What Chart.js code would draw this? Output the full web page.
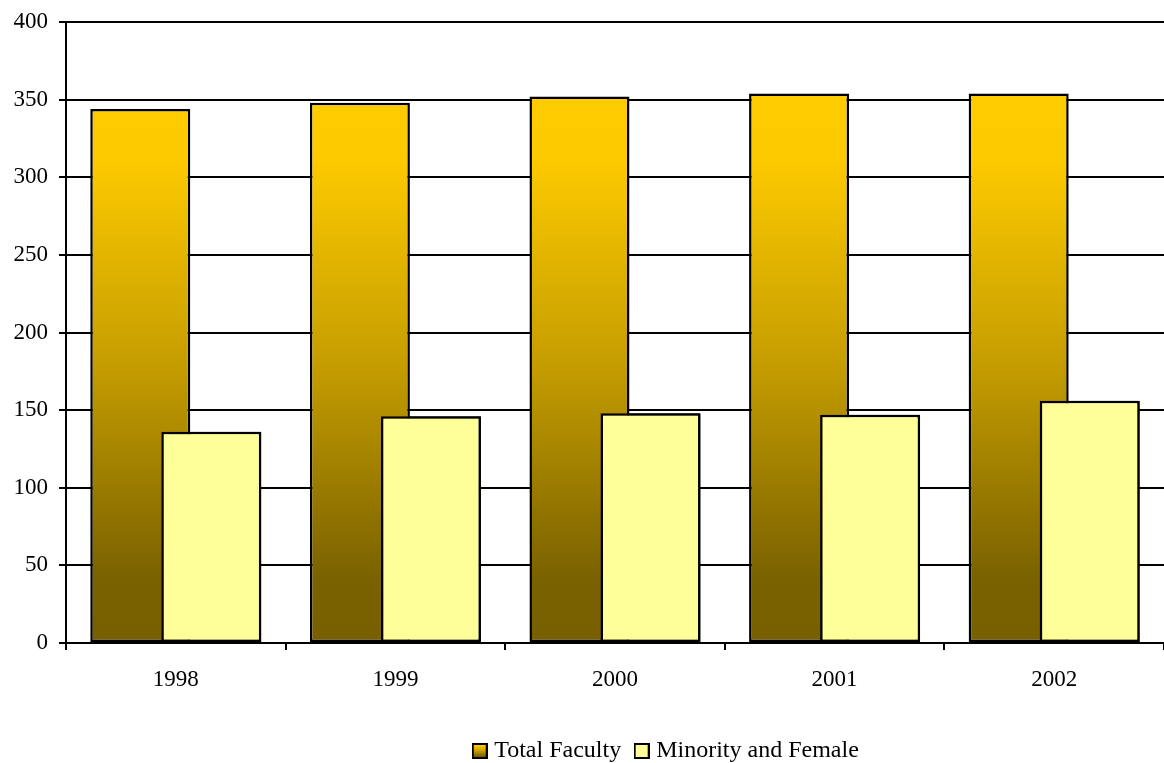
<!DOCTYPE html>
<html>
<head>
<meta charset="utf-8">
<script src="https://cdn.jsdelivr.net/npm/chart.js@4/dist/chart.umd.min.js"></script>
<style>
  html, body { margin: 0; padding: 0; background: #fff; }
  #wrap { width: 1164px; height: 763px; }
</style>
</head>
<body>
<div id="wrap"><canvas id="c" width="1164" height="763"></canvas></div>
<script>
const categories = ['1998', '1999', '2000', '2001', '2002'];
const totalFaculty = [344, 348, 352, 354, 354];
const minorityFemale = [136, 146, 148, 147, 156];
const yTicks = [0, 50, 100, 150, 200, 250, 300, 350, 400];
const seriesNames = ['Total Faculty', 'Minority and Female'];

const FONT = "'Liberation Serif', 'Times New Roman', serif";
const FS = 23;
const LFS = 24;

function totalGradient(ctx, top, bottom) {
  const g = ctx.createLinearGradient(0, top, 0, bottom);
  g.addColorStop(0, '#FFCC00');
  g.addColorStop(0.12, '#FDCA00');
  g.addColorStop(0.5, '#C49C00');
  g.addColorStop(0.88, '#7A6200');
  g.addColorStop(1, '#786000');
  return g;
}

function legendIcon(kind) {
  const s = 16;
  const cv = document.createElement('canvas');
  cv.width = s; cv.height = s;
  const c = cv.getContext('2d');
  c.fillStyle = kind === 0 ? totalGradient(c, 1, s - 1) : '#FFFF99';
  c.fillRect(1, 1, s - 2, s - 2);
  c.strokeStyle = '#000';
  c.lineWidth = 2;
  c.strokeRect(1, 1, s - 2, s - 2);
  return cv;
}
const icons = [legendIcon(0), legendIcon(1)];

const redrawTop = {
  id: 'redrawTop',
  afterLayout(chart) {
    const lg = chart.legend;
    if (lg) {
      lg.left += 86; lg.right += 86;
      lg.top += 10; lg.bottom += 10;
    }
  },
  afterDatasetsDraw(chart) {
    const meta = chart.getDatasetMeta(1);
    const a = chart.chartArea;
    const ctx = chart.ctx;
    ctx.save();
    ctx.beginPath();
    ctx.rect(a.left, a.top - 2, a.right - a.left, a.bottom - a.top + 4);
    ctx.clip();
    meta.controller.draw();
    ctx.restore();
  }
};

new Chart(document.getElementById('c'), {
  type: 'bar',
  data: {
    labels: categories,
    datasets: [
      {
        label: seriesNames[0],
        data: totalFaculty,
        backgroundColor: (context) => {
          const chart = context.chart;
          const a = chart.chartArea;
          if (!a) return '#FFCC00';
          const y = chart.scales.y;
          return totalGradient(chart.ctx, y.getPixelForValue(354), y.getPixelForValue(0));
        },
        borderColor: '#000',
        borderWidth: 2.5,
        borderSkipped: false,
        categoryPercentage: 0.647,
        barPercentage: 1.408
      },
      {
        label: seriesNames[1],
        data: minorityFemale,
        backgroundColor: '#FFFF99',
        borderColor: '#000',
        borderWidth: 2.5,
        borderSkipped: false,
        categoryPercentage: 0.647,
        barPercentage: 1.408
      }
    ]
  },
  options: {
    responsive: false,
    animation: false,
    devicePixelRatio: 1,
    layout: { padding: { top: 22, right: 0, left: 0, bottom: 0 } },
    plugins: {
      tooltip: { enabled: false },
      legend: {
        position: 'bottom',
        labels: {
          color: '#000',
          font: { family: FONT, size: LFS },
          usePointStyle: true,
          pointStyleWidth: 5,
          padding: 18,
          generateLabels(chart) {
            const items = Chart.defaults.plugins.legend.labels.generateLabels(chart);
            items.forEach((it, i) => { it.pointStyle = icons[i]; });
            return items;
          }
        }
      }
    },
    scales: {
      x: {
        offset: true,
        afterFit(scale) { scale.height = 68; },
        grid: {
          offset: true,
          drawOnChartArea: false,
          drawTicks: true,
          tickLength: 7,
          color: '#000',
          lineWidth: 2
        },
        border: { display: true, color: '#000', width: 2 },
        ticks: {
          color: '#000',
          font: { family: FONT, size: FS },
          padding: 16,
          maxRotation: 0
        }
      },
      y: {
        min: 0,
        max: 400,
        afterFit(scale) { scale.width = 66; scale.paddingTop = 0; scale.paddingBottom = 0; },
        afterBuildTicks(scale) { scale.ticks = yTicks.map(v => ({ value: v })); },
        grid: {
          color: '#000',
          lineWidth: 2,
          drawTicks: true,
          tickLength: 7
        },
        border: { display: true, color: '#000', width: 2 },
        ticks: {
          color: '#000',
          font: { family: FONT, size: FS },
          padding: 11
        }
      }
    }
  },
  plugins: [redrawTop]
});
</script>
</body>
</html>
